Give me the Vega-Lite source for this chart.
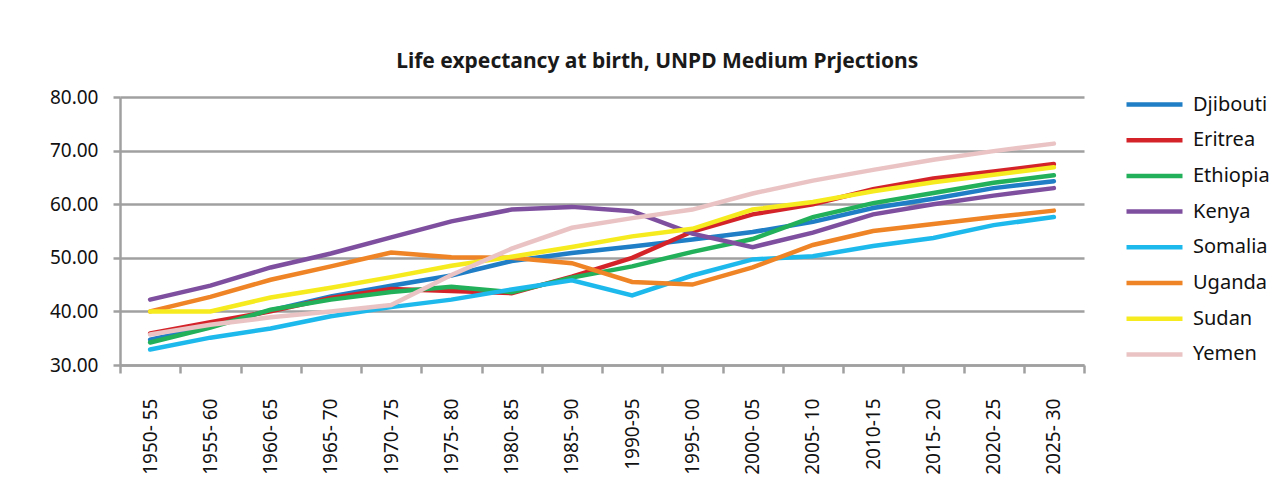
{
  "$schema": "https://vega.github.io/schema/vega-lite/v6.json",
  "width": 964,
  "height": 268,
  "padding": {"left": 49, "top": 51, "right": 5, "bottom": 5},
  "background": "white",
  "title": {
    "text": "Life expectancy at birth, UNPD Medium Prjections",
    "fontSize": 21,
    "fontWeight": "bold",
    "font": "Noto Sans",
    "color": "#1a1a1a",
    "anchor": "middle",
    "frame": "bounds",
    "offset": 16
  },
  "config": {"view": {"stroke": null}, "font": "Noto Sans"},
  "data": {
    "values": [
      {"period": "1950- 55", "Djibouti": 34.7, "Eritrea": 35.9, "Ethiopia": 34.2, "Kenya": 42.2, "Somalia": 32.9, "Uganda": 40.0, "Sudan": 40.0, "Yemen": 35.7},
      {"period": "1955- 60", "Djibouti": 37.2, "Eritrea": 38.0, "Ethiopia": 37.0, "Kenya": 44.8, "Somalia": 35.1, "Uganda": 42.7, "Sudan": 40.0, "Yemen": 37.5},
      {"period": "1960- 65", "Djibouti": 40.2, "Eritrea": 40.0, "Ethiopia": 40.3, "Kenya": 48.2, "Somalia": 36.8, "Uganda": 45.9, "Sudan": 42.6, "Yemen": 38.9},
      {"period": "1965- 70", "Djibouti": 42.8, "Eritrea": 42.5, "Ethiopia": 42.2, "Kenya": 50.8, "Somalia": 39.1, "Uganda": 48.4, "Sudan": 44.4, "Yemen": 40.0},
      {"period": "1970- 75", "Djibouti": 44.8, "Eritrea": 44.2, "Ethiopia": 43.6, "Kenya": 53.8, "Somalia": 40.8, "Uganda": 51.0, "Sudan": 46.4, "Yemen": 41.2},
      {"period": "1975- 80", "Djibouti": 46.7, "Eritrea": 43.8, "Ethiopia": 44.6, "Kenya": 56.8, "Somalia": 42.2, "Uganda": 50.1, "Sudan": 48.5, "Yemen": 46.8},
      {"period": "1980- 85", "Djibouti": 49.4, "Eritrea": 43.4, "Ethiopia": 43.6, "Kenya": 59.0, "Somalia": 44.1, "Uganda": 50.0, "Sudan": 50.2, "Yemen": 51.7},
      {"period": "1985- 90", "Djibouti": 50.9, "Eritrea": 46.5, "Ethiopia": 46.3, "Kenya": 59.5, "Somalia": 45.8, "Uganda": 49.0, "Sudan": 52.0, "Yemen": 55.6},
      {"period": "1990-95", "Djibouti": 52.1, "Eritrea": 50.0, "Ethiopia": 48.4, "Kenya": 58.7, "Somalia": 43.0, "Uganda": 45.5, "Sudan": 54.0, "Yemen": 57.4},
      {"period": "1995- 00", "Djibouti": 53.4, "Eritrea": 54.9, "Ethiopia": 51.1, "Kenya": 54.5, "Somalia": 46.7, "Uganda": 45.0, "Sudan": 55.4, "Yemen": 59.0},
      {"period": "2000- 05", "Djibouti": 54.8, "Eritrea": 58.1, "Ethiopia": 53.5, "Kenya": 52.0, "Somalia": 49.7, "Uganda": 48.2, "Sudan": 59.0, "Yemen": 62.0},
      {"period": "2005- 10", "Djibouti": 56.7, "Eritrea": 60.0, "Ethiopia": 57.6, "Kenya": 54.7, "Somalia": 50.3, "Uganda": 52.4, "Sudan": 60.4, "Yemen": 64.4},
      {"period": "2010-15", "Djibouti": 59.3, "Eritrea": 62.8, "Ethiopia": 60.2, "Kenya": 58.1, "Somalia": 52.2, "Uganda": 55.0, "Sudan": 62.4, "Yemen": 66.4},
      {"period": "2015- 20", "Djibouti": 61.0, "Eritrea": 64.8, "Ethiopia": 62.1, "Kenya": 60.0, "Somalia": 53.7, "Uganda": 56.3, "Sudan": 64.1, "Yemen": 68.3},
      {"period": "2020- 25", "Djibouti": 63.0, "Eritrea": 66.1, "Ethiopia": 64.0, "Kenya": 61.6, "Somalia": 56.1, "Uganda": 57.6, "Sudan": 65.5, "Yemen": 69.9},
      {"period": "2025- 30", "Djibouti": 64.3, "Eritrea": 67.5, "Ethiopia": 65.4, "Kenya": 63.0, "Somalia": 57.6, "Uganda": 58.8, "Sudan": 66.9, "Yemen": 71.3}
    ]
  },
  "transform": [
    {"fold": ["Djibouti", "Eritrea", "Ethiopia", "Kenya", "Somalia", "Uganda", "Sudan", "Yemen"], "as": ["country", "value"]}
  ],
  "mark": {"type": "line", "strokeWidth": 4.5, "strokeCap": "round"},
  "encoding": {
    "x": {
      "field": "period",
      "type": "ordinal",
      "sort": null,
      "bandPosition": 0.5,
      "scale": {"type": "band", "paddingInner": 0, "paddingOuter": 0},
      "axis": {
        "title": null,
        "labelAngle": -90,
        "labelAlign": "right",
        "labelBaseline": "middle",
        "labelFontSize": 19,
        "labelColor": "#111111",
        "labelPadding": 25,
        "tickBand": "extent",
        "grid": false,
        "domainColor": "#a0a0a0",
        "domainWidth": 2.5,
        "tickColor": "#a0a0a0",
        "tickWidth": 2.5,
        "tickSize": 8
      }
    },
    "y": {
      "field": "value",
      "type": "quantitative",
      "scale": {"domain": [30, 80]},
      "axis": {
        "title": null,
        "values": [30, 40, 50, 60, 70, 80],
        "format": ".2f",
        "labelFontSize": 19,
        "labelColor": "#111111",
        "labelPadding": 15,
        "grid": true,
        "gridColor": "#a0a0a0",
        "gridWidth": 2.5,
        "domainColor": "#a0a0a0",
        "domainWidth": 2.5,
        "tickColor": "#a0a0a0",
        "tickWidth": 2.5,
        "tickSize": 7
      }
    },
    "color": {
      "field": "country",
      "type": "nominal",
      "scale": {
        "domain": ["Djibouti", "Eritrea", "Ethiopia", "Kenya", "Somalia", "Uganda", "Sudan", "Yemen"],
        "range": ["#1f7ec5", "#d4242a", "#22b05a", "#7f4f9f", "#1eb9ec", "#ee8425", "#f6eb1e", "#eac4c4"]
      },
      "legend": {
        "title": null,
        "orient": "right",
        "offset": 63,
        "padding": -5,
        "symbolType": "M-2.8,0H2.8",
        "symbolSize": 400,
        "symbolStrokeWidth": 4.5,
        "labelFontSize": 20,
        "labelColor": "#111111",
        "labelOffset": 26,
        "rowPadding": 12.7
      }
    }
  }
}
